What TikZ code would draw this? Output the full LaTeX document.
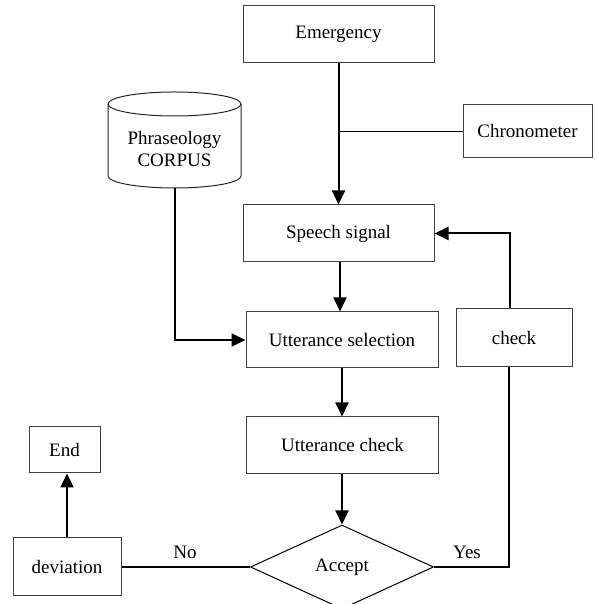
\documentclass[tikz,border=0pt]{standalone}
\usepackage{fontspec}
\setmainfont{Liberation Serif}
\usetikzlibrary{shapes.geometric,arrows.meta,calc}
\begin{document}
\begin{tikzpicture}[x=1pt,y=1pt,
  font=\fontsize{19}{22}\selectfont,
  box/.style={draw=black!75,line width=1pt,rectangle,inner sep=0pt,align=center},
  arr/.style={line width=2pt,-{Triangle[width=13pt,length=14pt]}},
  ln/.style={line width=1.4pt}]
\useasboundingbox (0,0) rectangle (595,604);
\begin{scope}
\clip (0,0) rectangle (595,604);
\node[box,minimum width=191pt,minimum height=57pt] (emerg) at (338.5,569.5) {Emergency};
\node[box,minimum width=129pt,minimum height=53pt] (chrono) at (527.5,472.5) {Chronometer};
\node[box,minimum width=191pt,minimum height=57pt] (speech) at (338.5,370.5) {Speech signal};
\node[box,minimum width=192pt,minimum height=56pt] (usel) at (342,264) {Utterance selection};
\node[box,minimum width=116pt,minimum height=58pt] (check) at (514,266) {check};
\node[box,minimum width=192pt,minimum height=57pt] (uchk) at (342.5,158.5) {Utterance check};
\node[draw=black,line width=1pt,diamond,aspect=2.18,minimum width=183pt,minimum height=84pt,inner sep=0pt] (accept) at (342,37) {Accept};
\node[box,minimum width=71pt,minimum height=46pt] (end) at (64.5,154) {End};
\node[box,minimum width=108pt,minimum height=58pt] (dev) at (67,37) {deviation};
% cylinder
\node[minimum width=133pt,minimum height=96pt,inner sep=0pt,align=center] (corpus) at (174.5,464) {};
\draw[draw=black!85,line width=1pt,fill=white]
  (108,500) -- (108,428) arc[start angle=180,end angle=360,x radius=66.5,y radius=12]
  -- (241,500);
\draw[draw=black!85,line width=1pt] (174.5,500) ellipse[x radius=66.5,y radius=12];
\node[align=center] (corpustext) at (174.5,455) {Phraseology\\CORPUS};
% connectors
\coordinate (jn) at (emerg.south |- chrono.west);
\draw[arr] (emerg.south) -- (speech.north);
\draw[ln] (jn) -- (chrono.west);
\draw[arr] ([xshift=1.5pt]speech.south) -- ([xshift=1.5pt]speech.south |- usel.north);
\draw[arr] (usel.south) -- (usel.south |- uchk.north);
\draw[arr] (accept.north |- uchk.south) -- (accept.north);
\draw[arr] (corpus.south -| 175,0) |- (usel.west);
\draw[arr] ([xshift=-4pt]check.north) |- (speech.east);
\draw[line width=2pt] ([xshift=-5pt]check.south) |- (accept.east);
\draw[ln] (accept.west) -- (dev.east);
\draw[arr] (dev.north) -- (dev.north |- end.south);
\node (no) at (185,52) {No};
\node (yes) at (467,52) {Yes};
\end{scope}
\end{tikzpicture}
\end{document}
